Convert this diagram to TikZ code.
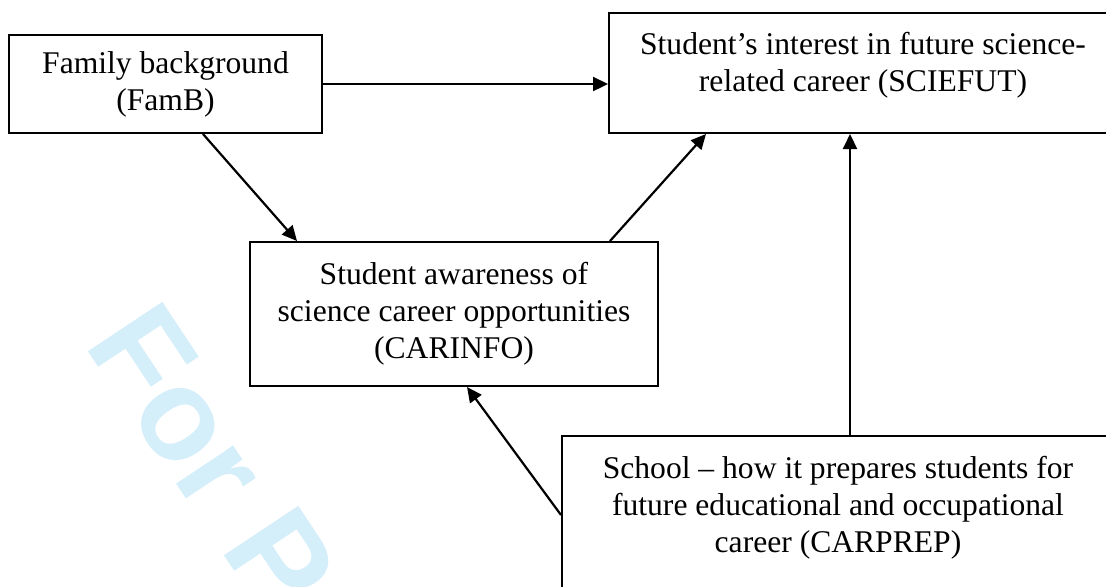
\documentclass[tikz,border=0pt]{standalone}
\usepackage{fontspec}
\setmainfont{Liberation Serif}
\newfontfamily\wmfont{Liberation Sans}
\usetikzlibrary{arrows.meta,positioning}
\definecolor{wmblue}{RGB}{212,238,250}

\begin{document}
\begin{tikzpicture}[x=0.5pt,y=-0.5pt,on grid,>={Triangle[length=7.5pt,width=7pt]},
	box/.style={draw,line width=1pt,align=center,inner sep=0pt,font=\fontsize{15.8}{18.5}\selectfont},
	link/.style={->,line width=1.1pt}]
	\clip (0,0) rectangle (1106,586);
	\node[text=wmblue,font=\wmfont\bfseries\fontsize{65}{65}\selectfont,rotate=-56.4] (mark) at (212,458) {For P};
	\node[box,minimum width=156.5pt,minimum height=49pt] (famb) at (165.5,84) {Family background\\(FamB)};
	\node[box,minimum width=254pt,minimum height=60pt,text depth=11pt] (sciefut) [above right=5.5pt and 348.75pt of famb] {Student's interest in future science-\\related career (SCIEFUT)};
	\node[box,minimum width=204pt,minimum height=72pt] (carinfo) [below right=115pt and 144.25pt of famb] {Student awareness of\\science career opportunities\\(CARINFO)};
	\node[box,minimum width=276pt,minimum height=82pt,text depth=14pt] (carprep) [below right=102pt and 192pt of carinfo] {School -- how it prepares students for\\future educational and occupational\\career (CARPREP)};
	\path[link]
	(famb.east) edge (famb.east -| sciefut.west)
	([xshift=18.75pt]famb.south) edge ([xshift=-78.5pt]carinfo.north)
	([xshift=78pt]carinfo.north) edge ([xshift=-78.5pt]sciefut.south)
	([xshift=6pt]carprep.north) edge ([xshift=6pt]carprep.north |- sciefut.south)
	([yshift=1.5pt]carprep.west) edge ([xshift=6.5pt]carinfo.south)
	;
\end{tikzpicture}
\end{document}
